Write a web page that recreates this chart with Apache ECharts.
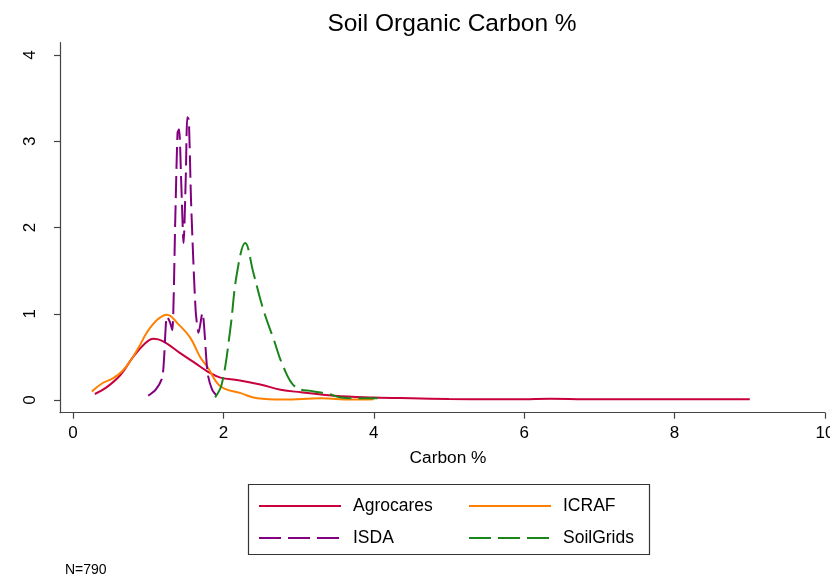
<!DOCTYPE html>
<html>
<head>
<meta charset="utf-8">
<script src="https://cdn.jsdelivr.net/npm/echarts@6/dist/echarts.min.js"></script>
<style>
  html, body { margin: 0; padding: 0; background: #fff; }
  #chart { width: 830px; height: 580px; }
</style>
</head>
<body>
<div id="chart"></div>
<script>
// density curves: carbon % on x, density on y
const agroX = [0.29, 0.45, 0.63, 0.8, 0.95, 1.07, 1.2, 1.43, 1.62, 1.79, 1.96, 2.2, 2.49, 2.76, 3.03, 3.47, 4.0, 4.5, 5.0, 5.6, 6.0, 6.35, 6.8, 7.5, 8.2, 9.0];
const agroY = [0.07, 0.15, 0.29, 0.5, 0.65, 0.71, 0.68, 0.54, 0.43, 0.33, 0.26, 0.23, 0.18, 0.12, 0.09, 0.05, 0.03, 0.02, 0.012, 0.008, 0.01, 0.015, 0.01, 0.008, 0.008, 0.01];

const icrafX = [0.25, 0.4, 0.53, 0.65, 0.76, 0.88, 0.98, 1.12, 1.25, 1.4, 1.56, 1.69, 1.79, 1.96, 2.23, 2.45, 2.8, 3.3, 3.7, 4.0];
const icrafY = [0.1, 0.2, 0.25, 0.33, 0.45, 0.62, 0.78, 0.93, 0.99, 0.88, 0.72, 0.5, 0.38, 0.16, 0.08, 0.02, 0.005, 0.02, 0.005, 0.01];

const isdaX = [1.0, 1.1, 1.19, 1.25, 1.29, 1.32, 1.36, 1.39, 1.41, 1.44, 1.47, 1.5, 1.52, 1.54, 1.57, 1.63, 1.67, 1.72, 1.79, 1.85, 1.92];
const isdaY = [0.05, 0.12, 0.27, 0.97, 0.9, 0.81, 2.1, 3.1, 3.14, 2.5, 1.82, 2.6, 3.28, 3.25, 2.3, 1.05, 0.78, 1.01, 0.31, 0.12, 0.04];

const soilX = [1.89, 1.98, 2.09, 2.18, 2.29, 2.4, 2.53, 2.67, 2.8, 2.96, 3.2, 3.4, 3.56, 3.8, 4.05];
const soilY = [0.03, 0.19, 0.81, 1.47, 1.82, 1.47, 1.05, 0.7, 0.38, 0.15, 0.1, 0.07, 0.03, 0.02, 0.02];

const xTicks = [0, 2, 4, 6, 8, 10];
const yTicks = [0, 1, 2, 3, 4];

const chart = echarts.init(document.getElementById('chart'));

function pairs(xs, ys) {
  return xs.map((x, i) => [x, ys[i]]);
}

const font = 'Liberation Sans, Arial, sans-serif';

const legendBase = {
  orient: 'vertical',
  top: 497,
  itemWidth: 82,
  itemHeight: 14,
  itemGap: 14,
  padding: 0,
  itemStyle: { opacity: 0 },
  textStyle: { fontFamily: font, fontSize: 17.5, color: '#000', padding: [0, 0, 0, 7] }
};

const option = {
  backgroundColor: '#fff',
  animation: false,
  title: {
    text: 'Soil Organic Carbon %',
    left: 447,
    textAlign: 'center',
    top: 7,
    textStyle: { fontFamily: font, fontSize: 24.5, fontWeight: 'normal', color: '#000' }
  },
  grid: { left: 60, right: 5, top: 42.7, bottom: 167.3, outerBoundsMode: 'none' },
  xAxis: {
    type: 'value',
    min: -0.173,
    max: 10,
    name: 'Carbon %',
    nameLocation: 'middle',
    nameGap: 37,
    nameTextStyle: { fontFamily: font, fontSize: 17.3, color: '#000', padding: [0, 0, 0, 11] },
    splitLine: { show: false },
    axisLine: { onZero: false, lineStyle: { color: '#444', width: 1.2 } },
    axisTick: { customValues: xTicks, length: 6, lineStyle: { color: '#444', width: 1.2 } },
    axisLabel: { customValues: xTicks, margin: 12, fontFamily: font, fontSize: 17, color: '#000' }
  },
  yAxis: {
    type: 'value',
    min: -0.147,
    max: 4.143,
    splitLine: { show: false },
    axisLine: { show: true, onZero: false, lineStyle: { color: '#444', width: 1.2 } },
    axisTick: { show: true, customValues: yTicks, length: 6, lineStyle: { color: '#444', width: 1.2 } },
    axisLabel: { customValues: yTicks, rotate: 90, margin: 21, fontFamily: font, fontSize: 17, color: '#000' }
  },
  legend: [
    Object.assign({ data: ['Agrocares', 'ISDA'], left: 258 }, legendBase),
    Object.assign({ data: ['ICRAF', 'SoilGrids'], left: 468 }, legendBase)
  ],
  graphic: [
    {
      type: 'rect',
      shape: { x: 248.5, y: 484.5, width: 401, height: 70 },
      style: { fill: 'none', stroke: '#333', lineWidth: 1.2 }
    },
    {
      type: 'text',
      left: 65,
      top: 563,
      style: { text: 'N=790', font: '14px ' + font, fill: '#000' }
    }
  ],
  series: [
    {
      name: 'Agrocares',
      type: 'line',
      data: pairs(agroX, agroY),
      smooth: 0.4,
      symbol: 'none',
      color: '#c8003c',
      lineStyle: { width: 2, color: '#c8003c' }
    },
    {
      name: 'ICRAF',
      type: 'line',
      data: pairs(icrafX, icrafY),
      smooth: 0.4,
      symbol: 'none',
      color: '#ff8000',
      lineStyle: { width: 2, color: '#ff8000' }
    },
    {
      name: 'ISDA',
      type: 'line',
      data: pairs(isdaX, isdaY),
      smooth: 0.25,
      symbol: 'none',
      color: '#800080',
      lineStyle: { width: 2, color: '#800080', type: [22, 7] }
    },
    {
      name: 'SoilGrids',
      type: 'line',
      data: pairs(soilX, soilY),
      smooth: 0.4,
      symbol: 'none',
      color: '#1a851a',
      lineStyle: { width: 2, color: '#1a851a', type: [22, 7] }
    }
  ]
};

chart.setOption(option);
</script>
</body>
</html>
